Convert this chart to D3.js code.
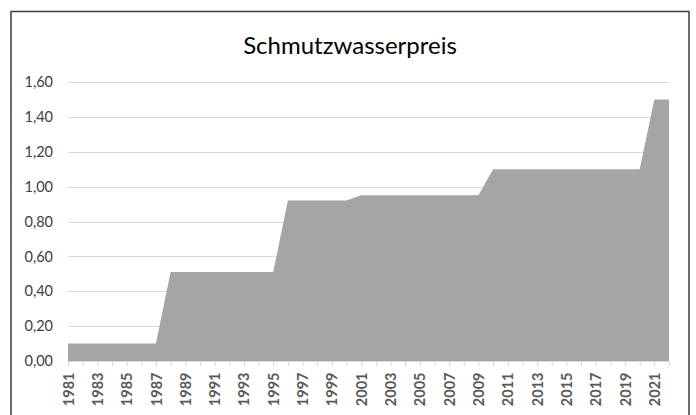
<!DOCTYPE html>
<html>
<head>
<meta charset="utf-8">
<script src="https://cdn.jsdelivr.net/npm/d3@7"></script>
<style>
  body { margin: 0; background: #fff; }
  svg { display: block; }
</style>
</head>
<body>
<svg id="chart" width="696" height="415"></svg>
<script>
// data
var years = [1981, 1982, 1983, 1984, 1985, 1986, 1987, 1988, 1989, 1990,
  1991, 1992, 1993, 1994, 1995, 1996, 1997, 1998, 1999, 2000,
  2001, 2002, 2003, 2004, 2005, 2006, 2007, 2008, 2009, 2010,
  2011, 2012, 2013, 2014, 2015, 2016, 2017, 2018, 2019, 2020,
  2021, 2022];
var prices = [0.10, 0.10, 0.10, 0.10, 0.10, 0.10, 0.10, 0.51, 0.51, 0.51,
  0.51, 0.51, 0.51, 0.51, 0.51, 0.92, 0.92, 0.92, 0.92, 0.92,
  0.95, 0.95, 0.95, 0.95, 0.95, 0.95, 0.95, 0.95, 0.95, 1.10,
  1.10, 1.10, 1.10, 1.10, 1.10, 1.10, 1.10, 1.10, 1.10, 1.10,
  1.50, 1.50];
var yTicks = [0, 0.2, 0.4, 0.6, 0.8, 1.0, 1.2, 1.4, 1.6];
var title = "Schmutzwasserpreis";

var data = years.map(function (d, i) { return {year: d, value: prices[i]}; });

var svg = d3.select("#chart"),
  width = +svg.attr("width"),
  height = +svg.attr("height");

var font = "Lato, 'Open Sans', sans-serif";

// german number format
var de = d3.formatLocale({decimal: ",", thousands: ".", grouping: [3], currency: ["", " €"]});
var fmt = de.format(".2f");

// chart frame (bottom edge is outside the picture)
svg.append("rect")
  .attr("x", 11).attr("y", 11.5)
  .attr("width", 678).attr("height", 420)
  .attr("fill", "none")
  .attr("stroke", "#3f3f3f")
  .attr("stroke-width", 1.5);

var x = d3.scaleLinear()
  .domain([years[0], years[years.length - 1]])
  .range([68, 669]);

var y = d3.scaleLinear()
  .domain([0, 1.6])
  .range([361, 82]);

// gridlines
svg.append("g")
  .selectAll("line")
  .data(yTicks.slice(1))
  .enter().append("line")
  .attr("x1", x.range()[0]).attr("x2", x.range()[1])
  .attr("y1", function (d) { return Math.round(y(d)) + 0.5; })
  .attr("y2", function (d) { return Math.round(y(d)) + 0.5; })
  .attr("stroke", "#d9d9d9")
  .attr("stroke-width", 1);

// area
var area = d3.area()
  .x(function (d) { return x(d.year); })
  .y0(y(0))
  .y1(function (d) { return y(d.value); });

svg.append("path")
  .datum(data)
  .attr("d", area)
  .attr("fill", "#a5a5a5");

// y axis labels
var yAxis = d3.axisLeft(y)
  .tickValues(yTicks)
  .tickSize(0)
  .tickPadding(0)
  .tickFormat(fmt);

var gy = svg.append("g")
  .attr("transform", "translate(53,0)")
  .call(yAxis);
gy.select(".domain").remove();
gy.selectAll("text")
  .attr("font-family", font)
  .attr("font-size", 14.5)
  .attr("fill", "#404040");

// x axis
var xAxis = d3.axisBottom(x)
  .tickValues(years)
  .tickSize(5)
  .tickPadding(0)
  .tickFormat(function (d) { return (d - 1981) % 2 === 0 ? String(d) : ""; });

var gx = svg.append("g")
  .attr("transform", "translate(0," + (Math.round(y(0)) + 0.5) + ")")
  .call(xAxis);
gx.select(".domain")
  .attr("stroke", "#d9d9d9")
  .attr("d", "M" + x.range()[0] + ",0H" + x.range()[1]);
gx.selectAll(".tick line").attr("stroke", "#d9d9d9");
gx.selectAll("text")
  .attr("font-family", font)
  .attr("font-size", 14.5)
  .attr("font-weight", "bold")
  .attr("fill", "#595959")
  .attr("text-anchor", "end")
  .attr("dy", "0.35em")
  .attr("transform", "translate(0,11) rotate(-90)")
  .attr("y", 0)
  .attr("x", 0);

// title
svg.append("text")
  .attr("x", 350)
  .attr("y", 54)
  .attr("text-anchor", "middle")
  .attr("font-family", font)
  .attr("font-size", 24)
  .attr("fill", "#000")
  .text(title);
</script>
</body>
</html>
